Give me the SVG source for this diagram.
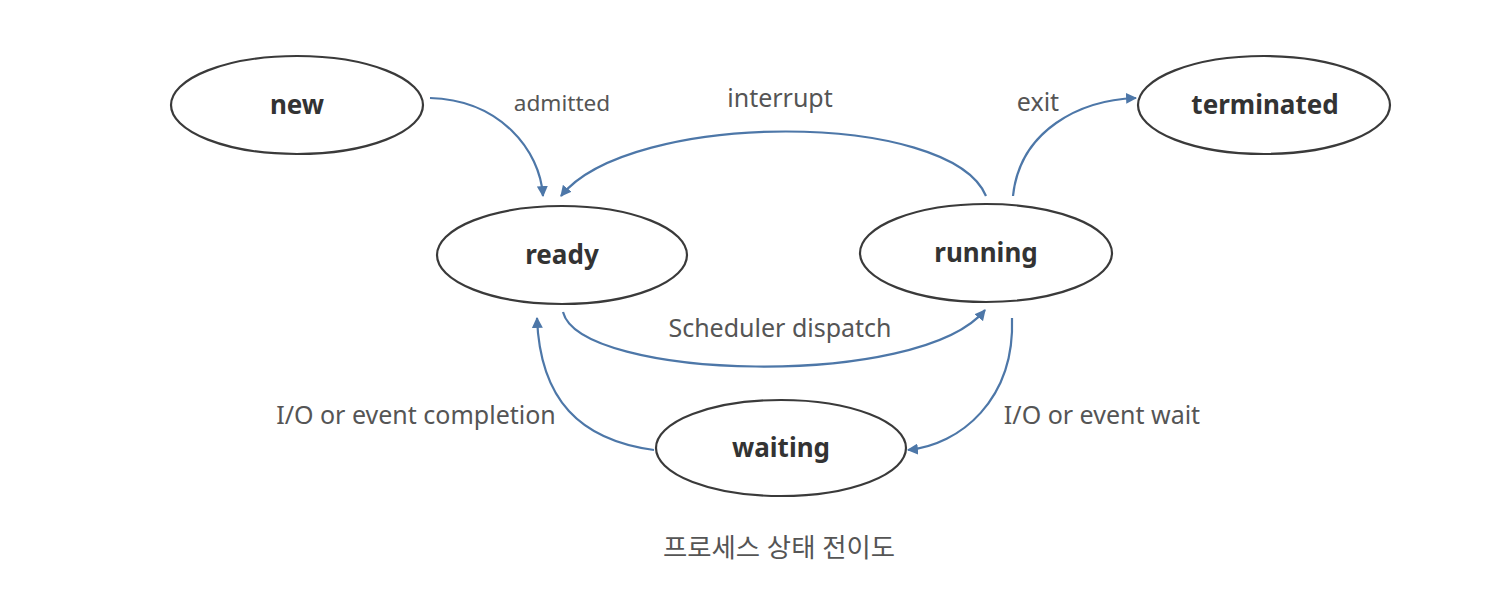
<svg xmlns="http://www.w3.org/2000/svg" width="1492" height="592" viewBox="0 0 1492 592">
<defs>
<style>
.node ellipse{fill:#fff;stroke:#3a3a3a;stroke-width:2.2}
.node text{font-family:"Noto Sans","Noto Sans CJK KR",sans-serif;font-weight:bold;font-size:26px;fill:#333;text-anchor:middle}
.edges path{fill:none;stroke:#4d77a8;stroke-width:2.2;marker-end:url(#ah)}
.lbl{font-family:"Noto Sans","Noto Sans CJK KR",sans-serif;font-size:25px;fill:#555;text-anchor:middle}
.lbl.sm{font-size:22.6px}
.lbl.ko{font-size:26.4px}
</style>
<marker id="ah" viewBox="0 0 10 10" refX="9" refY="5" markerWidth="5" markerHeight="5" orient="auto" markerUnits="strokeWidth">
<path d="M0,0 L10,5 L0,10 z" fill="#4d77a8"/>
</marker>
</defs>
<rect width="1492" height="592" fill="#fff"/>
<g class="edges">
<path d="M430,98 C500,100 540,150 543,196"/>
<path d="M986,196 C950,110 630,110 561,196"/>
<path d="M1013,196 C1020,130 1080,100 1136,98"/>
<path d="M563,312 C580,380 920,390 985,310"/>
<path d="M1012,318 C1015,400 960,445 908,450"/>
<path d="M654,450 C580,440 540,400 537,318"/>
</g>
<g class="labels">
<text class="lbl sm" x="562" y="111">admitted</text>
<text class="lbl" x="780" y="107">interrupt</text>
<text class="lbl" x="1038" y="111">exit</text>
<text class="lbl" x="780" y="337">Scheduler dispatch</text>
<text class="lbl" x="416" y="424">I/O or event completion</text>
<text class="lbl" x="1102" y="424">I/O or event wait</text>
<text class="lbl ko" x="779" y="557">프로세스 상태 전이도</text>
</g>
<g id="new" class="node"><ellipse cx="297" cy="105" rx="126" ry="49"/><text x="297" y="114">new</text></g>
<g id="terminated" class="node"><ellipse cx="1264" cy="105" rx="126" ry="49"/><text x="1265" y="114">terminated</text></g>
<g id="ready" class="node"><ellipse cx="562" cy="255" rx="125" ry="49"/><text x="562" y="264">ready</text></g>
<g id="running" class="node"><ellipse cx="986" cy="253" rx="126" ry="49"/><text x="986" y="262">running</text></g>
<g id="waiting" class="node"><ellipse cx="781" cy="448" rx="125" ry="48"/><text x="781" y="457">waiting</text></g>
</svg>
